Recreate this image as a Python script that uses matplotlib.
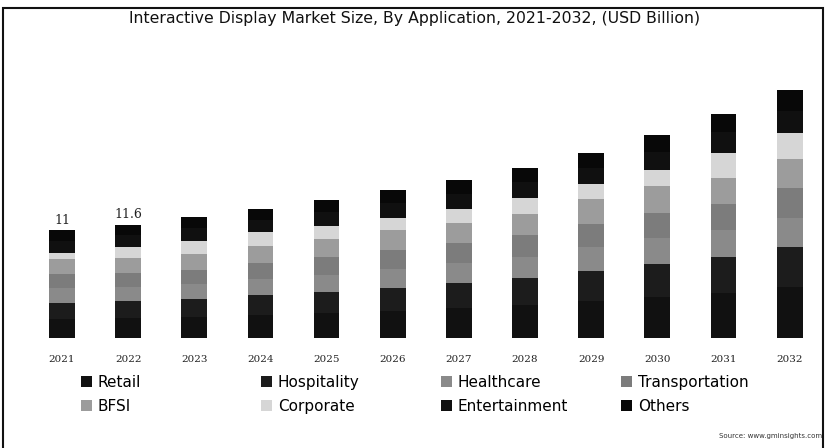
import matplotlib.pyplot as plt
from matplotlib.patches import Rectangle
import numpy as np

years = ['2021', '2022', '2023', '2024', '2025', '2026', '2027', '2028', '2029', '2030', '2031', '2032']
retail = [2.0, 2.1, 2.2, 2.4, 2.6, 2.8, 3.1, 3.4, 3.8, 4.2, 4.6, 5.2]
hospitality = [1.6, 1.7, 1.8, 2.0, 2.1, 2.3, 2.5, 2.7, 3.1, 3.4, 3.7, 4.1]
healthcare = [1.5, 1.4, 1.5, 1.6, 1.8, 2.0, 2.1, 2.2, 2.4, 2.6, 2.7, 3.0]
transportation = [1.5, 1.5, 1.5, 1.7, 1.8, 1.9, 2.0, 2.2, 2.4, 2.6, 2.7, 3.0]
bfsi = [1.5, 1.5, 1.6, 1.7, 1.8, 2.0, 2.1, 2.2, 2.5, 2.7, 2.7, 3.0]
corporate = [0.6, 1.1, 1.3, 1.4, 1.4, 1.3, 1.4, 1.6, 1.5, 1.7, 2.5, 2.6]
entertainment = [1.2, 1.2, 1.3, 1.3, 1.4, 1.5, 1.5, 1.6, 1.7, 1.8, 2.1, 2.3]
others = [1.1, 1.1, 1.2, 1.1, 1.2, 1.3, 1.4, 1.5, 1.5, 1.7, 1.9, 2.1]
labelled = {'2021': '11', '2022': '11.6'}

series = [
    ('Retail', retail, '#111111'),
    ('Hospitality', hospitality, '#1c1c1c'),
    ('Healthcare', healthcare, '#8a8a8a'),
    ('Transportation', transportation, '#7c7c7c'),
    ('BFSI', bfsi, '#9c9c9c'),
    ('Corporate', corporate, '#d6d6d6'),
    ('Entertainment', entertainment, '#101010'),
    ('Others', others, '#080808'),
]

fig = plt.figure(figsize=(8.26, 4.48), dpi=100)
ax = fig.add_axes([0.035, 0.245, 0.961, 0.665])

x = np.arange(len(years))
bottom = np.zeros(len(years))
handles = []
for name, vals, col in series:
    h = ax.bar(x, vals, 0.39, bottom=bottom, color=col, label=name)
    handles.append(h)
    bottom += np.array(vals)

for i, yr in enumerate(years):
    if yr in labelled:
        ax.text(x[i], bottom[i] + 0.4, labelled[yr], ha='center', va='bottom',
                fontsize=9, family='DejaVu Serif', color='#222222')

ax.set_xlim(-0.5, 11.5)
ax.set_ylim(0, 30.4)
ax.set_xticks(x)
ax.set_xticklabels(years, fontsize=7.5, family='DejaVu Serif', color='#222222')
ax.tick_params(axis='x', length=0, pad=12)
ax.set_yticks([])
for s in ax.spines.values():
    s.set_visible(False)

fig.text(0.502, 0.959, 'Interactive Display Market Size, By Application, 2021-2032, (USD Billion)',
         ha='center', va='center', fontsize=11.3, color='#111111')

# legend: 4 columns, row-major order as in the reference
col_x = [0.098, 0.316, 0.534, 0.752]
for c in range(4):
    pair = [c, c + 4]
    fig.legend(handles=[handles[k] for k in pair], labels=[series[k][0] for k in pair],
               loc='upper left', bbox_to_anchor=(col_x[c], 0.163), frameon=False,
               fontsize=11, handlelength=0.7, handleheight=0.7, handletextpad=0.4,
               labelspacing=0.57, borderaxespad=0, borderpad=0)

fig.text(0.995, 0.02, 'Source: www.gminsights.com', ha='right', va='bottom',
         fontsize=5, color='#333333')

fig.patches.append(Rectangle((0.004, -0.01), 0.992, 0.992, transform=fig.transFigure,
                             fill=False, edgecolor='#111111', linewidth=1.5))

plt.savefig('out.png', dpi=100)
plt.close()
